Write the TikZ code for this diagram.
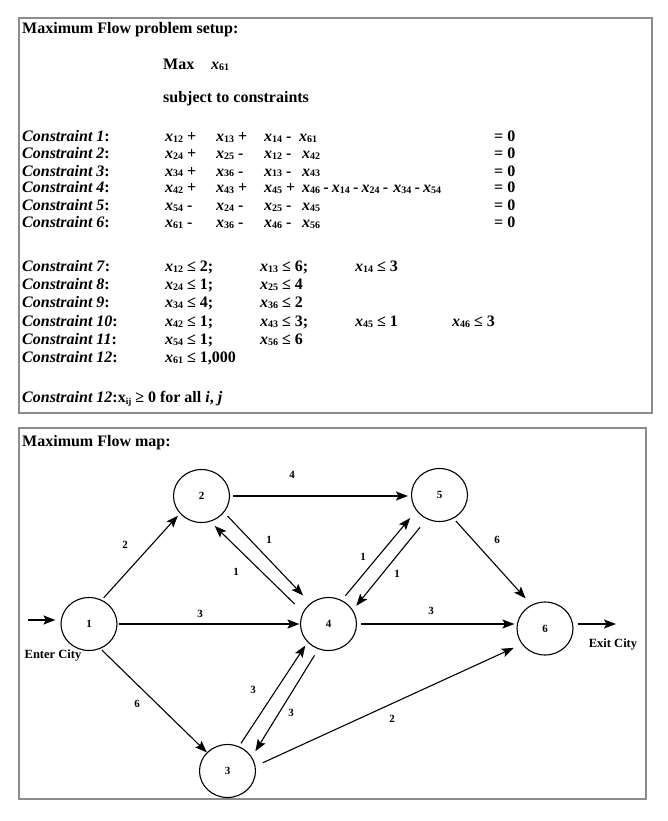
\documentclass[tikz,border=0pt]{standalone}
\usepackage{fontspec}
\setmainfont{Liberation Serif}
\usetikzlibrary{arrows.meta,shapes.geometric}
\newcommand{\vx}[1]{\textit{x}\raisebox{-1pt}{\fontsize{10}{10}\selectfont #1}}
\newcommand{\mn}{\hspace{3.2pt}-\hspace{3.2pt}}
\begin{document}
\begin{tikzpicture}[x=1pt,y=-1pt,
  txt/.style={anchor=base west,inner sep=0pt,font=\bfseries\fontsize{16}{19}\selectfont},
  city/.style={ellipse,draw,line width=1.1pt,minimum width=56pt,minimum height=53pt,inner sep=0pt,font=\bfseries\fontsize{11}{11}\selectfont},
  elab/.style={inner sep=0pt,font=\bfseries\fontsize{11}{11}\selectfont},
  clab/.style={inner sep=0pt,font=\bfseries\fontsize{12.5}{13}\selectfont},
  flow/.style={-{Stealth[length=12pt,width=9pt,inset=2.5pt]},line width=1.1pt},
  hflow/.style={flow,line width=1.5pt},
  frame/.style={draw=black!45,line width=1.3pt}]
\useasboundingbox (0,0) rectangle (667,821);
\fill[white] (0,0) rectangle (667,821);
% frames
\draw[frame] (19,18) rectangle (652,413);
\draw[frame] (19,428) rectangle (646,799);
% setup text
\node[txt] (t0) at (22,34) {Maximum Flow problem setup:};
\node[txt] (t1) at (163,70) {Max};
\node[txt] (t1x) at (211,70) {\vx{61}};
\node[txt] (t2) at (163,103) {subject to constraints};
% rows 1-6
\node[txt] (r1l) at (22,142) {\textit{Constraint 1}:};
\node[txt] (r1a) at (165,142) {\vx{12} +};
\node[txt] (r1b) at (216,142) {\vx{13} +};
\node[txt] (r1c) at (264,142) {\vx{14} -};
\node[txt] (r1d) at (299,142) {\vx{61}};
\node[txt] (r1e) at (494,142) {= 0};
\node[txt] (r2l) at (22,159) {\textit{Constraint 2}:};
\node[txt] (r2a) at (165,159) {\vx{24} +};
\node[txt] (r2b) at (216,159) {\vx{25} -};
\node[txt] (r2c) at (264,159) {\vx{12} -};
\node[txt] (r2d) at (302,159) {\vx{42}};
\node[txt] (r2e) at (494,159) {= 0};
\node[txt] (r3l) at (22,176) {\textit{Constraint 3}:};
\node[txt] (r3a) at (165,176) {\vx{34} +};
\node[txt] (r3b) at (216,176) {\vx{36} -};
\node[txt] (r3c) at (264,176) {\vx{13} -};
\node[txt] (r3d) at (302,176) {\vx{43}};
\node[txt] (r3e) at (494,176) {= 0};
\node[txt] (r4l) at (22,193) {\textit{Constraint 4}:};
\node[txt] (r4a) at (165,193) {\vx{42} +};
\node[txt] (r4b) at (216,193) {\vx{43} +};
\node[txt] (r4c) at (264,193) {\vx{45} +};
\node[txt] (r4d) at (302,193) {\vx{46}\mn\vx{14}\mn\vx{24}\mn\hspace{2pt}\vx{34}\mn\vx{54}};
\node[txt] (r4e) at (494,193) {= 0};
\node[txt] (r5l) at (22,210) {\textit{Constraint 5}:};
\node[txt] (r5a) at (165,210) {\vx{54} -};
\node[txt] (r5b) at (216,210) {\vx{24} -};
\node[txt] (r5c) at (264,210) {\vx{25} -};
\node[txt] (r5d) at (302,210) {\vx{45}};
\node[txt] (r5e) at (494,210) {= 0};
\node[txt] (r6l) at (22,227) {\textit{Constraint 6}:};
\node[txt] (r6a) at (165,227) {\vx{61} -};
\node[txt] (r6b) at (216,227) {\vx{36} -};
\node[txt] (r6c) at (264,227) {\vx{46} -};
\node[txt] (r6d) at (302,227) {\vx{56}};
\node[txt] (r6e) at (494,227) {= 0};
% rows 7-12
\node[txt] (r7l) at (22,271) {\textit{Constraint 7}:};
\node[txt] (r7a) at (165,271) {\vx{12} ≤ 2;};
\node[txt] (r7b) at (260,271) {\vx{13} ≤ 6;};
\node[txt] (r7c) at (355,271) {\vx{14} ≤ 3};
\node[txt] (r8l) at (22,289) {\textit{Constraint 8}:};
\node[txt] (r8a) at (165,289) {\vx{24} ≤ 1;};
\node[txt] (r8b) at (260,289) {\vx{25} ≤ 4};
\node[txt] (r9l) at (22,307) {\textit{Constraint 9}:};
\node[txt] (r9a) at (165,307) {\vx{34} ≤ 4;};
\node[txt] (r9b) at (260,307) {\vx{36} ≤ 2};
\node[txt] (r10l) at (22,326) {\textit{Constraint 10}:};
\node[txt] (r10a) at (165,326) {\vx{42} ≤ 1;};
\node[txt] (r10b) at (260,326) {\vx{43} ≤ 3;};
\node[txt] (r10c) at (355,326) {\vx{45} ≤ 1};
\node[txt] (r10d) at (452,326) {\vx{46} ≤ 3};
\node[txt] (r11l) at (22,344) {\textit{Constraint 11}:};
\node[txt] (r11a) at (165,344) {\vx{54} ≤ 1;};
\node[txt] (r11b) at (260,344) {\vx{56} ≤ 6};
\node[txt] (r12l) at (22,362) {\textit{Constraint 12}:};
\node[txt] (r12a) at (165,362) {\vx{61} ≤ 1,000};
\node[txt] (r13) at (22,402) {\textit{Constraint 12}:x\raisebox{-2pt}{\fontsize{9}{9}\selectfont ij} ≥ 0 for all \textit{i}, \textit{j}};
% map
\node[txt] (m0) at (22,446) {Maximum Flow map:};
\node[city] (n1) at (89,624) {1};
\node[city] (n2) at (201.5,496) {2};
\node[city] (n5) at (439.5,495) {5};
\node[city] (n4) at (328.5,624) {4};
\node[city] (n6) at (545,628.5) {6};
\node[city] (n3) at (227.5,771) {3};
\coordinate (in0) at (28,620);
\coordinate (out0) at (616,624);
\draw[hflow,line width=1.7pt,shorten >=5pt] (in0) -- (in0 -| n1.west);
\draw[hflow,line width=1.7pt,shorten <=4pt] (out0 -| n6.east) -- (out0);
\draw[flow,shorten <=2.7pt,shorten >=2.8pt] (n1.62) -- (n2.219);
\draw[hflow,shorten <=3pt,shorten >=3pt] (n2.east) -- (n2.east -| n5.west);
\draw[flow,shorten <=5pt,shorten >=10.5pt] (n2.-36) -- (n4.131);
\draw[flow,shorten <=11.4pt,shorten >=6pt] (n4.155) -- (n2.-71);
\draw[flow,shorten <=5.6pt,shorten >=9.5pt] (n4.61.5) -- (n5.214.5);
\draw[flow,shorten <=10.6pt,shorten >=5.3pt] (n5.242) -- (n4.30);
\draw[flow,shorten <=3.4pt,shorten >=8.5pt] (n5.-59) -- (n6.120.5);
\draw[hflow,shorten <=1pt,shorten >=0.5pt] (n1.east) -- (n1.east -| n4.west);
\draw[hflow,shorten <=4pt,shorten >=2pt] (n4.east) -- (n4.east -| n6.west);
\draw[flow,shorten <=1.9pt] (n1.-65) -- (n3.138);
\draw[flow,shorten <=3.5pt,shorten >=3.9pt] (n3.65.6) -- (n4.221);
\draw[flow,shorten <=7.2pt,shorten >=6.7pt] (n4.248.4) -- (n3.30.7);
\draw[flow,shorten <=8pt,shorten >=8.8pt] (n3.10.4) -- (n6.214.3);
% edge labels
\node[elab] (l12) at (125,545) {2};
\node[elab] (l25) at (292,475) {4};
\node[elab] (l24) at (269,540) {1};
\node[elab] (l42) at (236,572) {1};
\node[elab] (l45) at (363,557) {1};
\node[elab] (l54) at (397,574) {1};
\node[elab] (l56) at (497,540) {6};
\node[elab] (l14) at (200,614) {3};
\node[elab] (l46) at (431,611) {3};
\node[elab] (l13) at (137,704) {6};
\node[elab] (l34) at (253,690) {3};
\node[elab] (l43) at (291,713) {3};
\node[elab] (l36) at (392,719) {2};
\node[clab] (enter) at (53,656) {Enter City};
\node[clab] (exit) at (613,645) {Exit City};
\end{tikzpicture}
\end{document}
